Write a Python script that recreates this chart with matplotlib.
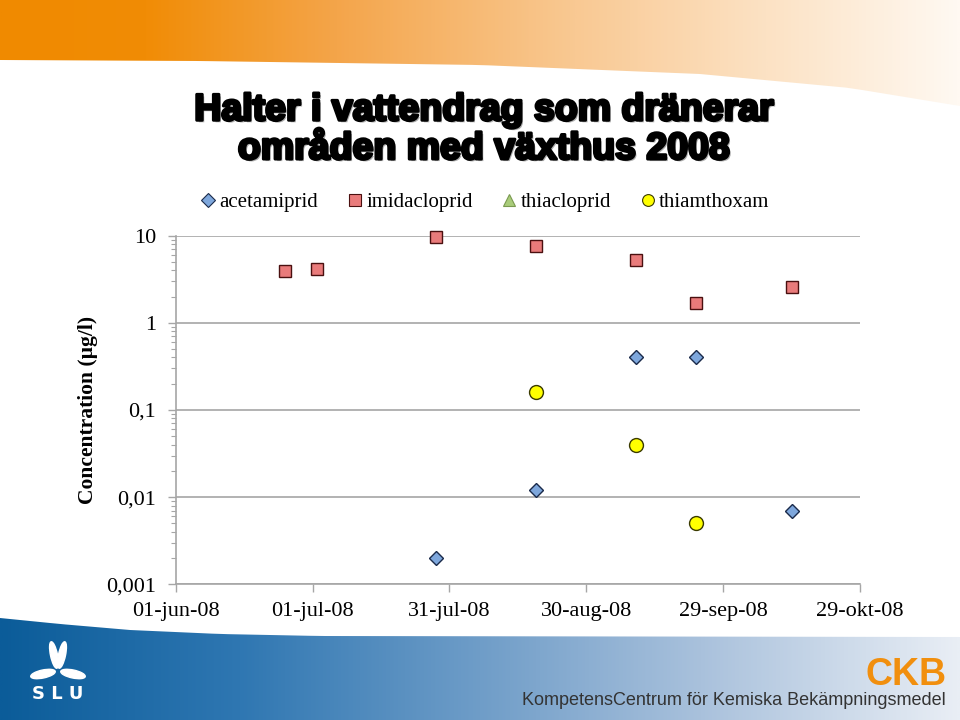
import numpy as np
import matplotlib.pyplot as plt
from matplotlib.lines import Line2D
from matplotlib.patches import Polygon, Ellipse
from matplotlib.colors import LinearSegmentedColormap
import matplotlib.patheffects as pe

acet_dates = ['2008-07-28', '2008-08-19', '2008-09-10', '2008-09-23', '2008-10-14']
acet_vals = [0.0020, 0.012, 0.40, 0.40, 0.0069]
imid_dates = ['2008-06-25', '2008-07-02', '2008-07-28', '2008-08-19',
              '2008-09-10', '2008-09-23', '2008-10-14']
imid_vals = [3.9, 4.15, 9.6, 7.7, 5.2, 1.7, 2.6]
thiac_dates = []
thiac_vals = []
thiam_dates = ['2008-08-19', '2008-09-10', '2008-09-23']
thiam_vals = [0.16, 0.040, 0.0050]

series_names = ['acetamiprid', 'imidacloprid', 'thiacloprid', 'thiamthoxam']

x_tick_dates = ['2008-06-01', '2008-07-01', '2008-07-31', '2008-08-30',
                '2008-09-29', '2008-10-29']
x_tick_labels = ['01-jun-08', '01-jul-08', '31-jul-08', '30-aug-08',
                 '29-sep-08', '29-okt-08']
y_ticks = [0.001, 0.01, 0.1, 1, 10]
y_tick_labels = ['0,001', '0,01', '0,1', '1', '10']

serif = 'Liberation Serif'
grey = '#a6a6a6'


def d(lst):
    return np.array(lst, dtype='datetime64[D]')


fig = plt.figure(figsize=(9.6, 7.2), dpi=100)

# ---- slide background: orange band on top, blue band at the bottom ----
bg = fig.add_axes([0, 0, 1, 1], zorder=-10)
grad = np.linspace(0, 1, 512).reshape(1, -1)

orange = LinearSegmentedColormap.from_list('orange', [
    (0, '#f08a00'), (0.15, '#f18c05'), (0.35, '#f4a54a'),
    (0.6, '#f9c993'), (0.8, '#fce2c4'), (1, '#fff9f2')])
im_top = bg.imshow(grad, cmap=orange, extent=[0, 960, 120, 0], aspect='auto')
cx = np.linspace(0, 960, 60)
top_edge = np.interp(cx, [0, 200, 480, 700, 850, 960], [60, 61, 65, 74, 88, 106])
top_poly = Polygon([(0, 0), (960, 0)] + list(zip(cx[::-1], top_edge[::-1])),
                   closed=True, facecolor='none', edgecolor='none')
bg.add_patch(top_poly)
im_top.set_clip_path(top_poly)

blue = LinearSegmentedColormap.from_list('blue', [
    (0, '#0b5c99'), (0.25, '#2f77b2'), (0.5, '#6f9dc8'),
    (0.73, '#a9c1dc'), (1, '#e9eef5')])
im_bot = bg.imshow(grad, cmap=blue, extent=[0, 960, 720, 610], aspect='auto')
bot_edge = np.interp(cx, [0, 60, 130, 220, 320, 960], [618, 624, 630, 634, 636, 637])
bot_poly = Polygon([(0, 720), (960, 720)] + list(zip(cx[::-1], bot_edge[::-1])),
                   closed=True, facecolor='none', edgecolor='none')
bg.add_patch(bot_poly)
im_bot.set_clip_path(bot_poly)

# SLU logo (simplified)
for (xc, yc, w, h, a) in [(54, 655, 7, 27, -12), (62, 655, 7, 27, 12),
                          (43, 674, 25, 8, -12), (73, 674, 25, 8, 12)]:
    bg.add_patch(Ellipse((xc, yc), w, h, angle=a, color='white'))
bg.text(58, 694, 'S L U', color='white', fontsize=13, fontweight='bold',
        ha='center', va='center', family='DejaVu Sans')

# CKB logo and text
bg.text(947, 685, 'CKB', color='#f18f0e', fontsize=27, fontweight='bold',
        ha='right', va='baseline', family='Liberation Sans')
bg.text(946, 705, 'KompetensCentrum för Kemiska Bekämpningsmedel', color='#333333',
        fontsize=13, ha='right', va='baseline', family='Liberation Sans')

bg.set_xlim(0, 960)
bg.set_ylim(720, 0)
bg.axis('off')

# ---- title ----
fig.text(0.504, 0.82, 'Halter i vattendrag som dränerar\nområden med växthus 2008',
         ha='center', va='center', fontsize=27, fontweight='bold',
         family='Liberation Sans', linespacing=1.1,
         path_effects=[pe.SimplePatchShadow(offset=(1.5, -1.5), shadow_rgbFace='#777777', alpha=0.6),
                       pe.withStroke(linewidth=2.2, foreground='black')])

# ---- chart ----
ax = fig.add_axes([0.183, 0.1885, 0.7128, 0.4842])
ax.set_facecolor('none')

styles = [
    dict(marker='D', ms=7.5, mfc='#7ea7dc', mec='#1a2a4a'),
    dict(marker='s', ms=9, mfc='#e97b7b', mec='#4a1010'),
    dict(marker='^', ms=9, mfc='#a9cc7a', mec='#7a9a50'),
    dict(marker='o', ms=10, mfc='#ffff00', mec='#3a3a00'),
]
legend_ms = [7, 8, 9, 8.5]
all_dates = [acet_dates, imid_dates, thiac_dates, thiam_dates]
all_vals = [acet_vals, imid_vals, thiac_vals, thiam_vals]
for dates, vals, st in zip(all_dates, all_vals, styles):
    ax.plot(d(dates), vals, ls='none', mew=1.0, zorder=3, clip_on=False, **st)

ax.set_yscale('log')
ax.set_ylim(0.001, 10)
ax.set_xlim(d(['2008-06-01'])[0], d(['2008-10-29'])[0])
ax.set_yticks(y_ticks, y_tick_labels)
ax.set_xticks(d(x_tick_dates), x_tick_labels)
ax.yaxis.set_minor_locator(plt.LogLocator(base=10, subs=np.arange(2, 10)))
ax.yaxis.set_minor_formatter(plt.NullFormatter())

for s in ['top', 'right']:
    ax.spines[s].set_visible(False)
for s in ['left', 'bottom']:
    ax.spines[s].set_color(grey)
    ax.spines[s].set_linewidth(1.2)
ax.grid(axis='y', which='major', color=grey, lw=1.2)
ax.grid(axis='x', visible=False)
ax.set_axisbelow(True)

ax.tick_params(axis='y', which='major', direction='out', length=6, width=1,
               color=grey, pad=8, labelsize=16)
ax.tick_params(axis='y', which='minor', direction='out', length=3.5, width=0.8,
               color=grey)
ax.tick_params(axis='x', which='major', direction='out', length=6, width=1,
               color=grey, pad=7, labelsize=16)
for lab in ax.get_xticklabels() + ax.get_yticklabels():
    lab.set_family(serif)

fig.text(0.092, 0.43, 'Concentration (µg/l)', rotation=90, ha='center', va='center',
         fontsize=15.5, fontweight='bold', family=serif)

handles = []
for st, ms in zip(styles, legend_ms):
    small = dict(st)
    small['ms'] = ms
    handles.append(Line2D([], [], ls='none', mew=0.8, **small))
fig.legend(handles, series_names, loc='center', bbox_to_anchor=(0.506, 0.719),
           ncol=4, frameon=False, handlelength=0.6, handletextpad=0.25,
           columnspacing=1.45, prop={'family': serif, 'size': 15})

fig.savefig('out.png', dpi=100)
